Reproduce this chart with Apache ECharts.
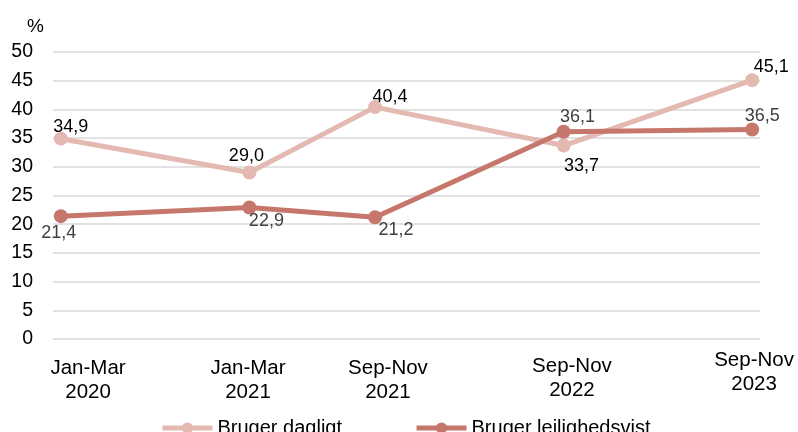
<!DOCTYPE html>
<html>
<head>
<meta charset="utf-8">
<script src="https://cdn.jsdelivr.net/npm/echarts@6/dist/echarts.min.js"></script>
<style>html,body{margin:0;padding:0;background:#fff}#c{width:798px;height:432px}</style>
</head>
<body>
<div id="c"></div>
<script>
// Data
const periods = ['Jan-Mar 2020', 'Jan-Mar 2021', 'Sep-Nov 2021', 'Sep-Nov 2022', 'Sep-Nov 2023'];
const periodMonths = [0, 12, 20, 32, 44]; // months since Feb 2020 (midpoint of period)
const daglig = [34.9, 29.0, 40.4, 33.7, 45.1];
const lejlighedsvis = [21.4, 22.9, 21.2, 36.1, 36.5];
const seriesNames = ['Bruger dagligt', 'Bruger lejlighedsvist'];
const yTicks = [0, 5, 10, 15, 20, 25, 30, 35, 40, 45, 50];

// Styling / layout (not data)
const FONT = 'Liberation Sans, Arial, sans-serif';
const colDaglig = '#e3b9b1';
const colLejl = '#c6776c';
const labelOffDaglig = [[10, -12], [-3, -17], [15, -10], [18, 20], [19, -13]];
const labelOffLejl = [[-2, 17], [17, 13], [21, 13], [14, -15], [10, -13]];
const xLabelPos = [1.73, 11.91, 20.82, 32.53, 44.12];
const xLabelSpacer = [8, 8, 8, 6, 0];

function fmt(v) { return v.toFixed(1).replace('.', ','); }
function build(vals, offs, color) {
  return vals.map((v, i) => ({
    value: [periodMonths[i], v],
    label: { offset: offs[i], color: color }
  }));
}

const chart = echarts.init(document.getElementById('c'), null, { renderer: 'canvas' });
chart.setOption({
  animation: false,
  textStyle: { fontFamily: FONT },
  grid: { left: 53, right: 38, top: 52, bottom: 93, containLabel: false },
  xAxis: {
    type: 'value', min: -0.5, max: 44.5,
    axisLine: { show: false }, axisTick: { show: false }, splitLine: { show: false },
    axisLabel: {
      customValues: xLabelPos,
      margin: 9,
      showMinLabel: true, showMaxLabel: true,
      formatter: function (val) {
        let idx = 0, best = 1e9;
        xLabelPos.forEach((p, i) => { if (Math.abs(p - val) < best) { best = Math.abs(p - val); idx = i; } });
        const parts = periods[idx].split(' ');
        const sp = xLabelSpacer[idx];
        return (sp ? '{s' + sp + '| }\n' : '') + '{a|' + parts[0] + '}\n{a|' + parts[1] + '}';
      },
      rich: {
        a: { fontSize: 20.5, lineHeight: 24, color: '#000', fontFamily: FONT },
        s8: { fontSize: 1, lineHeight: 8 },
        s6: { fontSize: 1, lineHeight: 6 }
      }
    }
  },
  yAxis: {
    type: 'value', min: yTicks[0], max: yTicks[yTicks.length - 1], interval: 5,
    name: '%', nameLocation: 'end', nameGap: 16,
    nameTextStyle: { fontSize: 19, color: '#000', fontFamily: FONT, align: 'right', padding: [0, 17, 0, 0] },
    axisLine: { show: false }, axisTick: { show: false },
    axisLabel: { fontSize: 19.5, color: '#000', margin: 20, fontFamily: FONT },
    splitLine: { lineStyle: { color: '#d9d9d9', width: 1.5 } }
  },
  legend: {
    left: 155, top: 413, itemWidth: 50, itemHeight: 14, itemGap: 72,
    textStyle: { fontSize: 20, color: '#000', fontFamily: FONT },
    lineStyle: { width: 5 },
    data: seriesNames
  },
  series: [
    {
      name: seriesNames[0], type: 'line', color: colDaglig,
      data: build(daglig, labelOffDaglig, '#000'),
      lineStyle: { width: 5, color: colDaglig },
      itemStyle: { color: colDaglig },
      symbol: 'circle', symbolSize: 14,
      label: { show: true, position: 'inside', fontSize: 18, fontFamily: FONT,
        formatter: p => fmt(p.value[1]) },
      z: 2
    },
    {
      name: seriesNames[1], type: 'line', color: colLejl,
      data: build(lejlighedsvis, labelOffLejl, '#404040'),
      lineStyle: { width: 5, color: colLejl },
      itemStyle: { color: colLejl },
      symbol: 'circle', symbolSize: 14,
      label: { show: true, position: 'inside', fontSize: 18, fontFamily: FONT,
        formatter: p => fmt(p.value[1]) },
      z: 3
    }
  ]
});
</script>
</body>
</html>
